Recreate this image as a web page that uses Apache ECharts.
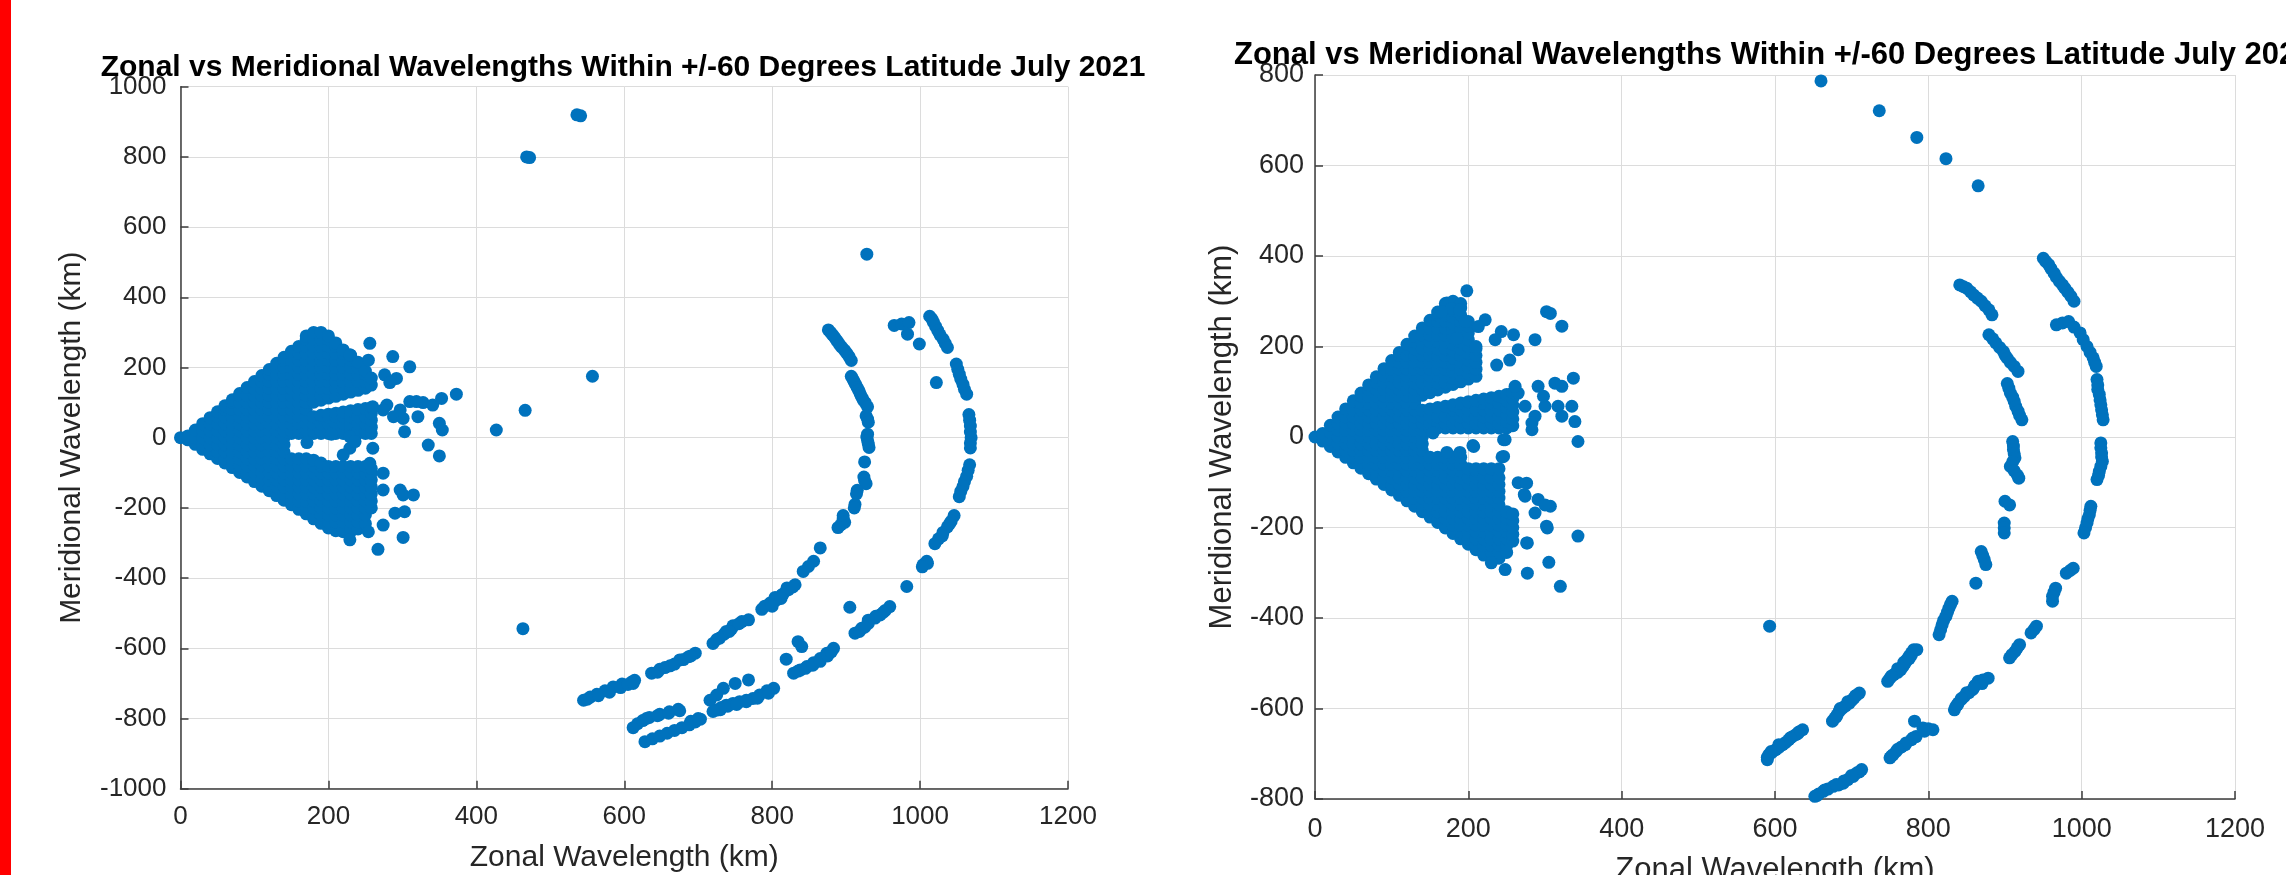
<!DOCTYPE html>
<html>
<head>
<meta charset="utf-8">
<script src="https://cdn.jsdelivr.net/npm/echarts/dist/echarts.min.js"></script>
<style>
html,body{margin:0;padding:0;background:#fff;}
#chart{width:2286px;height:875px;}
</style>
</head>
<body>
<div id="chart"></div>
<script>
// ---------- text ----------
const titleText = "Zonal vs Meridional Wavelengths Within +/-60 Degrees Latitude July 2021";
const xLabel = "Zonal Wavelength (km)";
const yLabel = "Meridional Wavelength (km)";

// ---------- tick labels ----------
const xTicks = [0, 200, 400, 600, 800, 1000, 1200];
const leftYTicks = [-1000, -800, -600, -400, -200, 0, 200, 400, 600, 800, 1000];
const rightYTicks = [-800, -600, -400, -200, 0, 200, 400, 600, 800];

// ---------- LEFT panel values (km) ----------
// dense wedge near origin, read column by column: [zonal, [meridional...]]
const leftWedgeCols = [
  [0,[0]],
  [10,[-6,0,5]],
  [20,[-19,0,22]],
  [30,[-33,-20,0,20,40]],
  [40,[-46,-40,-20,0,20,40,57]],
  [50,[-59,-40,-20,0,20,40,60,74]],
  [60,[-72,-60,-40,-20,0,20,40,60,80,91]],
  [70,[-85,-80,-60,-40,-20,0,20,40,60,80,100,108]],
  [80,[-99,-80,-60,-40,-20,0,20,40,60,80,100,120,126]],
  [90,[-112,-100,-80,-60,-40,-20,0,20,40,60,80,100,120,143]],
  [100,[-125,-120,-100,-80,-60,-40,-20,0,20,40,60,80,100,120,140,160]],
  [110,[-138,-120,-100,-80,-60,-40,-20,0,20,40,60,80,100,120,140,160,177]],
  [120,[-151,-140,-120,-100,-80,-60,-40,-20,0,20,40,60,80,100,120,140,160,180,194]],
  [130,[-165,-160,-140,-120,-100,-80,-60,-40,-20,0,20,40,60,80,100,120,140,160,180,200,212]],
  [140,[-178,-160,-140,-120,-100,-80,-60,-40,-20,0,20,40,60,80,100,120,140,160,180,200,220,229]],
  [150,[-191,-180,-160,-140,-120,-100,-80,-60,12,20,40,60,80,100,120,140,160,180,200,220,240,246]],
  [160,[-204,-200,-180,-160,-140,-120,-100,-80,-60,12,20,40,60,80,100,120,140,160,180,200,220,240,260]],
  [170,[-217,-200,-180,-160,-140,-120,-100,-80,-60,12,20,40,60,80,100,120,140,160,180,200,220,240,260,280,290]],
  [180,[-231,-220,-200,-180,-160,-140,-120,-100,-80,-64,12,20,40,60,101,120,140,160,180,200,220,240,260,280,300]],
  [190,[-244,-240,-220,-200,-180,-160,-140,-120,-100,-80,-72,12,20,40,60,64,107,120,140,160,180,200,220,240,260,280,300]],
  [200,[-257,-240,-220,-200,-180,-160,-140,-120,-100,-82,12,20,40,60,67,113,120,140,160,180,200,220,240,260,280,290]],
  [210,[-265,-240,-220,-200,-180,-160,-140,-120,-100,-82,12,20,40,60,70,118,140,160,180,200,220,240,260,270]],
  [220,[-268,-260,-240,-220,-200,-180,-160,-140,-120,-100,-82,12,20,40,60,73,124,140,160,180,200,220,240,250]],
  [230,[-268,-260,-240,-220,-200,-180,-160,-140,-120,-100,-82,12,20,40,60,77,130,140,160,180,200,220,235]],
  [240,[-260,-240,-220,-200,-180,-160,-140,-120,-100,-82,12,20,40,60,80,135,160,180,200,215]],
  [250,[-245,-220,-200,-180,-160,-140,-120,-100,-82,12,20,40,60,83,141,160,180,190]],
  [258,[-200,-180,-160,-140,-120,-100,-88,12,30,50,70,86,150,170]]
];
const leftWedgeOutliers = [
  [256,269],[254,221],[287,231],[310,202],[276,179],[292,169],[283,157],[373,124],[229,236],
  [279,93],[288,60],[301,55],[310,103],[321,60],[328,100],[341,93],[353,112],[350,41],[354,22],
  [303,17],[335,-21],[350,-52],[260,-30],[319,103],[297,79],[274,79],[260,88],
  [171,-14],[204,10],[229,3],[229,-30],[220,-49],[236,-11],
  [256,-73],[274,-101],[274,-149],[297,-149],[301,-163],[315,-163],[290,-215],[303,-211],
  [274,-249],[254,-268],[301,-284],[229,-291],[267,-318]
];
const leftIsolated = [
  [468,800],[472,798],[536,920],[541,917],[928,523],[557,175],[466,78],[427,22],[463,-544],
  [905,-483],[835,-581],[840,-595],[819,-631],[1022,157],
  [965,320],[975,324],[985,328],[983,295],[999,267]
];
const leftInnerArc = [
  [876,307],[879,300],[882,292],[885,284],[888,275],[891,266],[894,258],[898,249],[901,240],[904,231],[907,220],
  [907,175],[909,167],[911,159],[913,151],[915,143],[917,135],[919,125],[921,116],[923,108],[926,99],[929,88],
  [927,62],[929,53],[930,44],
  [929,10],[928,2],[929,-8],[930,-18],[931,-28],
  [925,-69],
  [924,-112],[925,-122],[927,-131],
  [915,-150],[914,-160],[912,-190],[911,-200],
  [896,-222],[896,-232],[898,-241],[893,-248],[889,-256],
  [865,-314],
  [856,-352],[849,-367],[842,-381],
  [831,-419],[822,-433],[813,-448],[806,-462],[795,-476],[786,-489],
  [768,-519],[759,-524],[747,-536],[738,-552],[729,-571],[720,-586],
  [696,-614],[687,-624],[675,-633],[662,-650],[648,-660],[637,-671],
  [614,-691],[610,-696],[597,-702],[585,-710],[574,-721],[563,-731],[554,-739],[545,-748]
];
const leftOuterArc = [
  [1013,346],[1016,338],[1018,329],[1021,317],[1024,305],[1027,293],[1031,281],[1034,269],[1037,257],
  [1049,210],[1051,195],[1053,181],[1055,167],[1058,152],[1060,138],[1063,124],
  [1066,66],[1067,50],[1068,33],[1068,16],[1069,0],[1068,-15],[1068,-29],
  [1067,-77],[1065,-93],[1063,-110],[1060,-125],[1058,-139],[1055,-153],[1053,-168],
  [1046,-222],[1042,-238],[1037,-254],[1031,-270],[1025,-288],[1020,-302],
  [1009,-352],[1004,-362],
  [982,-424],
  [959,-481],[953,-492],[946,-505],[939,-514],[930,-529],[921,-543],[912,-557],
  [883,-600],[874,-614],[865,-629],[856,-641],[847,-652],[838,-662],[829,-671],
  [802,-714],[793,-721],[783,-733],[774,-743],[765,-748],[756,-752],[747,-757],[738,-762],[731,-769],[725,-776],
  [768,-690],[750,-700],[734,-714],[725,-733],[716,-748]
];
const leftLowChains = [
  [612,-826],[618,-815],[625,-806],[634,-797],[648,-788],[661,-781],[673,-774],
  [628,-866],[638,-858],[648,-850],[658,-842],[668,-834],[678,-826],[688,-818],[696,-810],[703,-802]
];
// extra dots where the streaks are wider than one marker
const leftStreakExtra = [
  [790,-480],[798,-470],[804,-455],[815,-445],[820,-428],[828,-425],[812,-458],[800,-480],
  [725,-575],[735,-560],[745,-545],[755,-530],[742,-552],
  [645,-668],[655,-655],[668,-645],[680,-632],[690,-622],
  [550,-745],[565,-735],[580,-725],[595,-712],[605,-703],[612,-700],
  [835,-665],[845,-657],[855,-648],[865,-637],[875,-622],[880,-610],
  [950,-498],[940,-509],[930,-520],[918,-552],[925,-540],
  [1040,-245],[1030,-280],[1010,-358],[1003,-368],
  [740,-765],[752,-760],[765,-752],[780,-742],[795,-728],[730,-775],[720,-780],
  [630,-800],[645,-792],[660,-785],[675,-778],[690,-808],[700,-800]
];

// ---------- RIGHT panel values (km) ----------
const rightWedgeCols = [
  [0,[0]],
  [10,[-9,0,8]],
  [20,[-21,-5,10,26]],
  [30,[-33,-15,0,15,30,44]],
  [40,[-45,-30,-15,0,15,30,45,62]],
  [50,[-57,-45,-30,-15,0,15,30,45,60,80]],
  [60,[-69,-60,-45,-30,-15,0,15,30,45,60,75,90,97]],
  [70,[-81,-75,-60,-45,-30,-15,0,15,30,45,60,75,90,105,115]],
  [80,[-93,-90,-75,-60,-45,-30,-15,0,15,30,45,60,75,90,105,120,133]],
  [90,[-105,-90,-75,-60,-45,-30,-15,0,15,30,45,60,75,90,105,120,135,151]],
  [100,[-117,-105,-90,-75,-60,-45,-30,-15,0,15,30,45,60,75,90,105,120,135,150,169]],
  [110,[-129,-120,-105,-90,-75,-60,-45,-30,-15,0,15,30,45,60,75,90,105,120,135,150,165,180,187]],
  [120,[-141,-135,-120,-105,-90,-75,-60,-45,-30,-15,0,15,30,45,60,75,90,105,120,135,150,165,180,195,205]],
  [130,[-153,-150,-135,-120,-105,-90,-75,-60,-45,-30,-15,0,15,30,45,60,75,90,105,120,135,150,165,180,195,210,223]],
  [140,[-165,-150,-135,-120,-105,-90,-75,-60,-45,-30,-15,0,15,30,45,59,92,105,120,135,150,165,180,195,210,225,241]],
  [150,[-177,-165,-150,-135,-120,-105,-90,-75,-60,-45,20,30,45,62,98,105,120,135,150,165,180,195,210,225,240,258]],
  [160,[-189,-180,-165,-150,-135,-120,-105,-90,-75,-60,-45,20,30,45,65,104,120,135,150,165,180,195,210,225,240,255,270,276]],
  [170,[-201,-195,-180,-165,-150,-135,-120,-105,-90,-75,-60,-45,20,30,45,68,110,120,135,150,165,180,195,210,225,240,255,270,285,295]],
  [180,[-213,-210,-195,-180,-165,-150,-135,-120,-105,-90,-75,-60,-45,20,30,45,60,71,116,130,145,160,175,190,205,220,235,250,265,280,295,300]],
  [190,[-225,-210,-195,-180,-165,-150,-135,-120,-105,-90,-75,-60,-45,20,30,45,60,75,122,135,150,165,180,195,210,225,240,255,270,285,295]],
  [200,[-237,-225,-210,-195,-180,-165,-150,-135,-120,-105,-90,-75,-70,20,30,45,60,78,128,140,155,170,185,200,215,230,245,255]],
  [210,[-249,-240,-225,-210,-195,-180,-165,-150,-135,-120,-105,-90,-75,-70,20,30,45,60,81,134,150,165,180,195,200]],
  [220,[-261,-255,-240,-225,-210,-195,-180,-165,-150,-135,-120,-105,-90,-70,20,30,45,60,75,84]],
  [230,[-268,-255,-240,-225,-210,-195,-180,-165,-150,-135,-120,-105,-90,-70,20,30,45,60,75,87]],
  [240,[-268,-255,-240,-225,-210,-195,-180,-165,-150,-135,-120,-105,-90,-70,20,30,45,60,75,90]],
  [250,[-255,-240,-225,-210,-195,-180,-165,20,35,50,65,80,94]],
  [258,[-230,-215,-200,-185,-170,25,40,55,70,85,98]]
];
const rightWedgeOutliers = [
  [198,323],[172,296],[178,284],[189,281],[165,277],[196,255],[185,218],[222,259],[213,244],
  [243,233],[259,226],[235,215],[265,193],[254,170],[237,159],[287,215],[302,277],[307,273],[322,245],
  [337,130],[339,34],[343,-10],[322,46],[300,68],[287,46],[283,16],[313,119],[291,112],[322,112],
  [335,68],[265,97],[261,112],[283,31],[317,68],[298,90],[274,68],
  [246,-6],[207,-21],[244,-44],[172,-34],[189,-34],[154,9],
  [265,-101],[274,-131],[291,-138],[307,-153],[287,-168],[302,-197],[276,-234],[343,-219],
  [230,-278],[248,-293],[277,-301],[320,-330],[305,-277],[277,-234],[303,-201],[300,-150],
  [273,-127],[276,-102],[246,-43],[248,-6],[206,-19]
];
const rightIsolated = [
  [660,787],[736,721],[785,662],[823,615],[865,555],[593,-418]
];
const rightInnerArc = [
  [841,336],[846,332],[850,329],[855,321],[859,314],[864,307],[869,300],[874,290],[879,281],[883,270],
  [879,226],[884,217],[888,208],[893,198],[898,189],[900,181],[903,174],[907,165],[912,156],[917,145],
  [903,118],[905,108],[907,97],[910,88],[912,79],[914,68],[917,57],[919,48],[922,38],
  [910,-10],[911,-20],[911,-28],[912,-37],[913,-46],[910,-55],[907,-65],[912,-75],[916,-84],[918,-91],
  [900,-142],[906,-150],
  [899,-190],[899,-201],[899,-212],
  [869,-253],[871,-262],[873,-271],[875,-282],
  [862,-323],
  [831,-363],[829,-370],[827,-378],[825,-387],[823,-396],[820,-405],[818,-415],[816,-426],[814,-437],
  [781,-470],[778,-477],[775,-484],[772,-492],[770,-499],[767,-507],[764,-514],[760,-520],[755,-525],[750,-533],[747,-540],
  [710,-566],[706,-571],[703,-577],[700,-582],[697,-588],[692,-594],[688,-599],[684,-606],[681,-614],[678,-621],[675,-628],
  [636,-647],[631,-652],[627,-658],[622,-663],[618,-669],[614,-675],[610,-680],[605,-686],[601,-691],[596,-697],[592,-702],[590,-708],[590,-713]
];
const rightOuterArc = [
  [950,395],[953,388],[957,381],[960,372],[964,362],[967,353],[971,344],[975,336],[978,329],[982,320],[986,311],[990,300],
  [967,248],[975,252],[983,255],[990,243],[998,230],[1002,215],[1007,200],[1011,187],[1015,175],[1017,165],[1019,156],
  [1020,127],[1021,115],[1021,105],[1023,94],[1024,82],[1025,71],[1026,60],[1027,49],[1028,38],
  [1025,-13],[1025,-24],[1026,-35],[1026,-44],[1027,-54],[1025,-65],[1023,-76],[1022,-85],[1020,-94],
  [1012,-153],[1011,-162],[1010,-172],[1008,-181],[1007,-190],[1005,-201],[1003,-212],
  [989,-290],[985,-295],[980,-301],
  [966,-334],[964,-343],[962,-352],[962,-363],
  [941,-418],[938,-425],[934,-433],
  [919,-459],[916,-466],[913,-474],[909,-481],[906,-488],
  [878,-533],[871,-537],[865,-540],[861,-549],[858,-558],[853,-565],[847,-573],[843,-580],[839,-588],[836,-595],[834,-603],
  [806,-647],[800,-645],[793,-643],[782,-628],[784,-662],[778,-669],[771,-676],[765,-685],[758,-695],[754,-702],[750,-709],
  [713,-735],[707,-742],[702,-750],[695,-757],[689,-765],[683,-769],[676,-772],[669,-778],[663,-783],[657,-789],[652,-794]
];
const rightStreakExtra = [
  [778,-482],[768,-498],[760,-512],[752,-528],[785,-470],[775,-490],
  [850,-565],[843,-578],[838,-592],[870,-545],[860,-552],
  [795,-650],[780,-665],[770,-680],[760,-690],[752,-705],
  [710,-740],[700,-748],[690,-760],[680,-768],[665,-780],[655,-792],
  [705,-572],[695,-585],[685,-600],[680,-618],
  [630,-655],[620,-665],[605,-680],[595,-695]
];

// ---------- build ----------
function expandCols(cols) {
  const out = [];
  cols.forEach(function (c) { c[1].forEach(function (y) { out.push([c[0], y]); }); });
  return out;
}
const leftData = expandCols(leftWedgeCols)
  .concat(leftWedgeOutliers, leftIsolated, leftInnerArc, leftOuterArc, leftLowChains, leftStreakExtra);
const rightData = expandCols(rightWedgeCols)
  .concat(rightWedgeOutliers, rightIsolated, rightInnerArc, rightOuterArc, rightStreakExtra);

const FONT = 'Liberation Sans, Arial, Helvetica, sans-serif';
const AXIS_COLOR = '#3c3c3c';
const TEXT_COLOR = '#262626';
const GRID_COLOR = '#dcdcdc';
const DOT_COLOR = '#0072BD';
const plainNumber = function (v) { return String(v); };

function xAxisCfg(gridIndex, fs, nameFs, nameGap, margin) {
  return {
    type: 'value', gridIndex: gridIndex,
    min: xTicks[0], max: xTicks[xTicks.length - 1], interval: xTicks[1] - xTicks[0],
    name: xLabel, nameLocation: 'middle', nameGap: nameGap, nameMoveOverlap: false,
    nameTextStyle: { fontFamily: FONT, fontSize: nameFs, color: TEXT_COLOR },
    axisLine: { show: true, onZero: false, lineStyle: { color: AXIS_COLOR, width: 1.5 } },
    axisTick: { show: true, inside: true, length: 8, lineStyle: { color: AXIS_COLOR, width: 1.5 } },
    axisLabel: { fontFamily: FONT, fontSize: fs, color: TEXT_COLOR, margin: margin, formatter: plainNumber },
    splitLine: { show: true, lineStyle: { color: GRID_COLOR, width: 1 } }
  };
}
function yAxisCfg(gridIndex, ticks, fs, nameFs, nameGap, margin) {
  return {
    type: 'value', gridIndex: gridIndex,
    min: ticks[0], max: ticks[ticks.length - 1], interval: ticks[1] - ticks[0],
    name: yLabel, nameLocation: 'middle', nameGap: nameGap, nameMoveOverlap: false,
    nameTextStyle: { fontFamily: FONT, fontSize: nameFs, color: TEXT_COLOR },
    axisLine: { show: true, onZero: false, lineStyle: { color: AXIS_COLOR, width: 1.5 } },
    axisTick: { show: true, inside: true, length: 8, lineStyle: { color: AXIS_COLOR, width: 1.5 } },
    axisLabel: { fontFamily: FONT, fontSize: fs, color: TEXT_COLOR, margin: margin, padding: [6, 0, 0, 0], formatter: plainNumber },
    splitLine: { show: true, lineStyle: { color: GRID_COLOR, width: 1 } }
  };
}

const chart = echarts.init(document.getElementById('chart'), null, { renderer: 'canvas', width: 2286, height: 875 });
chart.setOption({
  animation: false,
  backgroundColor: '#ffffff',
  title: [
    { text: titleText, left: 95.7, top: 48, padding: 5,
      textStyle: { fontFamily: FONT, fontSize: 30, fontWeight: 'bold', color: '#000000' } },
    { text: titleText, left: 1229, top: 34.5, padding: 5,
      textStyle: { fontFamily: FONT, fontSize: 31, fontWeight: 'bold', color: '#000000' } }
  ],
  grid: [
    { left: 180.5, top: 86.7, width: 887.5, height: 702, containLabel: false, outerBoundsMode: 'none' },
    { left: 1315, top: 75, width: 920, height: 724, containLabel: false, outerBoundsMode: 'none' }
  ],
  xAxis: [ xAxisCfg(0, 26, 30, 54, 15), xAxisCfg(1, 27, 31, 56, 17) ],
  yAxis: [ yAxisCfg(0, leftYTicks, 26, 30, 93.7, 14), yAxisCfg(1, rightYTicks, 27, 31, 77, 11) ],
  series: [
    { type: 'scatter', xAxisIndex: 0, yAxisIndex: 0, data: leftData, symbol: 'circle', symbolSize: 13,
      itemStyle: { color: DOT_COLOR, opacity: 1, borderWidth: 0 }, clip: false, silent: true, large: false, progressive: 0 },
    { type: 'scatter', xAxisIndex: 1, yAxisIndex: 1, data: rightData, symbol: 'circle', symbolSize: 13,
      itemStyle: { color: DOT_COLOR, opacity: 1, borderWidth: 0 }, clip: false, silent: true, large: false, progressive: 0 }
  ],
  graphic: [
    { type: 'rect', left: 0, top: 0, z: 100, shape: { width: 11, height: 875 }, style: { fill: '#ff0000' } }
  ]
});
</script>
</body>
</html>
